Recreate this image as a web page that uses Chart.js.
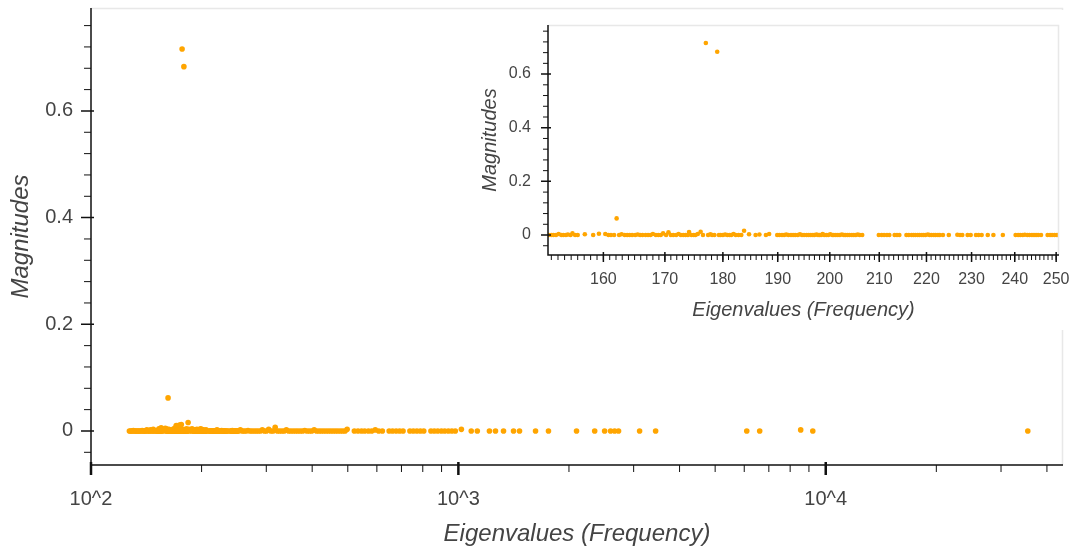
<!DOCTYPE html>
<html>
<head>
<meta charset="utf-8">
<script src="https://cdn.jsdelivr.net/npm/chart.js@4.4.0/dist/chart.umd.min.js"></script>
<style>
  body { margin: 0; background: #fff; }
  #wrap { position: relative; width: 1069px; height: 549px; }
  #main { position: absolute; left: 0; top: 0; }
  #inset { position: absolute; left: 470px; top: 10px; }
</style>
</head>
<body>
<div id="wrap">
  <canvas id="main" width="1069" height="549"></canvas>
  <canvas id="inset" width="599" height="320"></canvas>
</div>
<script>
// eigenvalues (frequency) whose magnitude reads as 0 on the plot
const baseFreqs = [
  127.2, 128.1, 128.9, 129.6, 131.3, 132.0, 132.8, 133.7, 134.5, 135.2, 136.1, 137.0,
  138.5, 139.4, 140.3, 141.0, 142.7, 143.6, 144.4, 146.0, 146.9, 148.4, 149.3, 151.0,
  151.6, 152.0, 152.3, 152.7, 153.5, 153.8, 154.2, 154.9, 155.6, 156.0, 158.4,
  160.8, 161.2, 161.7, 162.5, 163.4, 163.8, 164.2, 164.6, 165.1, 165.9, 166.3, 166.8,
  167.2, 167.6, 168.5, 168.9, 169.3, 170.2, 171.0, 171.4, 171.9, 172.7, 173.1,
  173.5, 173.9, 174.5, 174.9, 175.2, 176.5, 177.4, 178.1, 178.5, 179.3, 179.6, 180.0,
  180.8, 181.2, 181.5, 182.3, 182.8, 183.3, 185.9, 187.8,
  189.9, 190.3, 190.8, 191.2, 192.0, 192.5, 192.9, 193.3, 193.8, 194.6, 195.0, 195.5,
  195.9, 196.3, 196.7, 197.0, 197.7, 198.0, 198.3, 198.9, 199.3, 199.7, 200.5, 200.8,
  201.2, 201.6, 202.0, 202.8, 203.1, 203.5, 203.9, 204.4, 204.8, 205.2, 206.0, 206.5,
  209.9, 210.5, 211.0, 211.6, 212.1, 213.2, 213.7, 214.2,
  215.7, 216.2, 216.8, 217.2, 217.6, 218.1, 218.5, 219.0, 219.4, 219.8, 220.7, 221.1,
  221.6, 222.0, 222.5, 222.9, 223.6, 224.9, 227.4, 227.9, 229.1, 229.8, 231.0, 231.6,
  232.3, 233.7, 235.0, 237.2, 240.2, 240.8, 241.3, 241.9, 243.0, 243.5, 244.1, 244.6,
  245.1, 245.6, 246.3, 247.9, 248.5, 249.0, 249.6, 250.2,
  252.5, 258.1, 261.0, 264.2, 271.0, 274.3, 277.9, 281.5, 285.0, 288.9, 296.4, 300.3,
  308.8, 313.0, 321.6, 326.0, 330.8, 335.5, 345.1, 350.0, 355.2, 360.4, 365.5, 370.9,
  376.4, 387.5, 393.2, 399.0, 411.1, 417.4, 423.5, 429.9, 436.3, 442.8, 449.5, 456.2,
  463.1, 470.0, 477.2, 484.4, 491.5,
  521, 533, 545, 556, 569, 581, 607, 621, 648, 662, 677, 692, 707, 738, 754, 771,
  788, 805, 842, 860, 879, 899, 918, 939, 960, 981,
  1084, 1126, 1215, 1262, 1327, 1413, 1467, 1622, 1759, 2097, 2350, 2501, 2596, 2663,
  2729, 3114, 3443, 6095, 6610, 9220, 35480
];
// eigenvalues with a visible magnitude, and those magnitudes
const raisedFreqs = [
  130.4, 137.8, 141.9, 145.1, 147.7, 150.2, 153.1, 154.5, 155.2, 157.1, 159.3, 160.3,
  162.1, 162.9, 165.5, 168.0, 169.7, 170.6, 172.3, 174.1, 175.6, 176.1, 177.0, 177.8,
  179.0, 180.4, 181.9, 183.8, 184.7, 186.6, 188.4, 191.6, 194.2, 197.4, 198.6, 200.1,
  202.4, 205.6, 220.3, 226.8, 242.4, 255.0, 267.5, 292.6, 304.5, 317.2, 340.2, 381.8,
  405.0, 498.0, 594, 1019, 8547
];
const raisedMags = [
  0.001, 0.001, 0.002, 0.002, 0.003, 0.001, 0.004, 0.002, 0.006, 0.003, 0.005, 0.004,
  0.062, 0.003, 0.002, 0.004, 0.006, 0.010, 0.004, 0.011, 0.004, 0.012, 0.716, 0.003,
  0.683, 0.002, 0.004, 0.016, 0.003, 0.002, 0.004, 0.002, 0.003, 0.002, 0.004, 0.003,
  0.002, 0.002, 0.002, 0.001, 0.001, 0.002, 0.001, 0.002, 0.003, 0.007, 0.002, 0.001,
  0.002, 0.003, 0.002, 0.003, 0.002
];

// axis ticks
const mainXTicks = [100, 1000, 10000];
const mainXLabels = ['10^2', '10^3', '10^4'];
const mainXMinor = [200, 300, 400, 500, 600, 700, 800, 900,
  2000, 3000, 4000, 5000, 6000, 7000, 8000, 9000, 20000, 30000, 40000];
const yTicks = [0, 0.2, 0.4, 0.6];
const yLabels = ['0', '0.2', '0.4', '0.6'];
const yMinor = [-0.04, 0.04, 0.08, 0.12, 0.16, 0.24, 0.28, 0.32, 0.36,
  0.44, 0.48, 0.52, 0.56, 0.64, 0.68, 0.72, 0.76];
const insetXTicks = [160, 170, 180, 190, 200, 210, 220, 230, 240, 250];
const insetXLabels = ['160', '170', '180', '190', '200', '210', '220', '230', '240', '250'];
const insetXMinor = [];
for (let v = 152; v <= 251; v++) insetXMinor.push(v);

const points = baseFreqs.map(x => ({ x: x, y: 0 }))
  .concat(raisedFreqs.map((x, i) => ({ x: x, y: raisedMags[i] })));
const FONT = "'Liberation Sans', Arial, Helvetica, sans-serif";

// draws axis lines, Bokeh-style in/out ticks and the light frame outline
const axisMarks = {
  id: 'axisMarks',
  beforeDraw(chart, args, o) {
    if (!o.bg) return;
    const ctx = chart.ctx;
    ctx.save();
    ctx.fillStyle = '#fff';
    ctx.fillRect(0, 0, chart.width, chart.height);
    ctx.restore();
  },
  afterDraw(chart, args, o) {
    const { ctx, chartArea: a, scales: { x, y } } = chart;
    ctx.save();
    ctx.strokeStyle = '#e8e8e8';
    ctx.lineWidth = 1.5;
    ctx.beginPath();
    ctx.moveTo(a.left, a.top + 0.5);
    ctx.lineTo(a.right - 0.5, a.top + 0.5);
    ctx.lineTo(a.right - 0.5, a.bottom);
    ctx.stroke();

    ctx.strokeStyle = '#111';
    ctx.lineWidth = 1.5;
    ctx.beginPath();
    ctx.moveTo(a.left, a.top);
    ctx.lineTo(a.left, a.bottom);
    ctx.lineTo(a.right, a.bottom);
    ctx.stroke();

    const mark = (scale, values, out, inn, w) => {
      ctx.lineWidth = w;
      ctx.beginPath();
      values.forEach(v => {
        if (v < scale.min || v > scale.max) return;
        const p = scale.getPixelForValue(v);
        if (scale.axis === 'x') {
          ctx.moveTo(p, a.bottom - inn);
          ctx.lineTo(p, a.bottom + out);
        } else {
          ctx.moveTo(a.left - out, p);
          ctx.lineTo(a.left + inn, p);
        }
      });
      ctx.stroke();
    };
    mark(x, o.xMinor, o.minorOut, 0, 1);
    mark(x, o.xMajor, o.majorOut, o.majorIn, o.xMajorWidth);
    mark(y, yMinor, o.minorOut, 0, 1);
    mark(y, yTicks, o.majorOut, o.majorIn, 1.5);
    ctx.restore();
  }
};

function makeScales(cfg) {
  return {
    x: {
      type: 'logarithmic',
      min: cfg.xMin, max: cfg.xMax,
      afterBuildTicks: s => { s.ticks = cfg.xTicks.map(v => ({ value: v })); },
      afterFit: s => { s.height = cfg.xHeight; s.paddingLeft = 0; s.paddingRight = 0; },
      grid: { display: false, drawTicks: false },
      border: { display: false },
      ticks: {
        autoSkip: false, maxRotation: 0, padding: cfg.xPad,
        color: '#444', font: { family: FONT, size: cfg.tickSize },
        callback: (v, i) => cfg.xLabels[i]
      },
      title: {
        display: true, text: 'Eigenvalues (Frequency)', color: '#444',
        font: { family: FONT, size: cfg.titleSize, style: 'italic' },
        padding: { top: 0, bottom: cfg.xTitlePad }
      }
    },
    y: {
      min: cfg.yMin, max: cfg.yMax,
      afterBuildTicks: s => { s.ticks = yTicks.map(v => ({ value: v })); },
      afterFit: s => { s.width = cfg.yWidth; s.paddingTop = 0; s.paddingBottom = 0; },
      grid: { display: false, drawTicks: false },
      border: { display: false },
      ticks: {
        autoSkip: false, padding: cfg.yPad,
        color: '#444', font: { family: FONT, size: cfg.tickSize },
        callback: (v, i) => yLabels[i]
      },
      title: {
        display: true, text: 'Magnitudes', color: '#444',
        font: { family: FONT, size: cfg.titleSize, style: 'italic' },
        padding: { top: cfg.yTitlePad, bottom: 0 }
      }
    }
  };
}

new Chart(document.getElementById('main'), {
  type: 'scatter',
  data: { datasets: [{ data: points, backgroundColor: '#ffa500', borderWidth: 0, pointRadius: 2.8 }] },
  options: {
    responsive: false, animation: false, devicePixelRatio: 1,
    layout: { padding: { top: 8, right: 6, left: 0, bottom: 0 } },
    plugins: {
      legend: { display: false }, tooltip: { enabled: false },
      axisMarks: { xMajor: mainXTicks, xMinor: mainXMinor, majorOut: 10, majorIn: 3, minorOut: 7, xMajorWidth: 2.5 }
    },
    scales: makeScales({
      xMin: 100, xMax: 44240, yMin: -0.0638, yMax: 0.793,
      xTicks: mainXTicks, xLabels: mainXLabels,
      xHeight: 84, yWidth: 91, xPad: 22, yPad: 18,
      tickSize: 20, titleSize: 24, xTitlePad: 0, yTitlePad: 7
    })
  },
  plugins: [axisMarks]
});

new Chart(document.getElementById('inset'), {
  type: 'scatter',
  data: { datasets: [{ data: points, backgroundColor: '#ffa500', borderWidth: 0, pointRadius: 2.3 }] },
  options: {
    responsive: false, animation: false, devicePixelRatio: 1,
    layout: { padding: { top: 15, right: 10, left: 0, bottom: 0 } },
    plugins: {
      legend: { display: false }, tooltip: { enabled: false },
      axisMarks: { bg: true, xMajor: insetXTicks, xMinor: insetXMinor, majorOut: 7, majorIn: 3, minorOut: 5, xMajorWidth: 1.5 }
    },
    scales: makeScales({
      xMin: 151.5, xMax: 250.7, yMin: -0.0745, yMax: 0.783,
      xTicks: insetXTicks, xLabels: insetXLabels,
      xHeight: 75, yWidth: 78, xPad: 15, yPad: 17,
      tickSize: 16, titleSize: 20, xTitlePad: 8, yTitlePad: 8
    })
  },
  plugins: [axisMarks]
});
</script>
</body>
</html>
